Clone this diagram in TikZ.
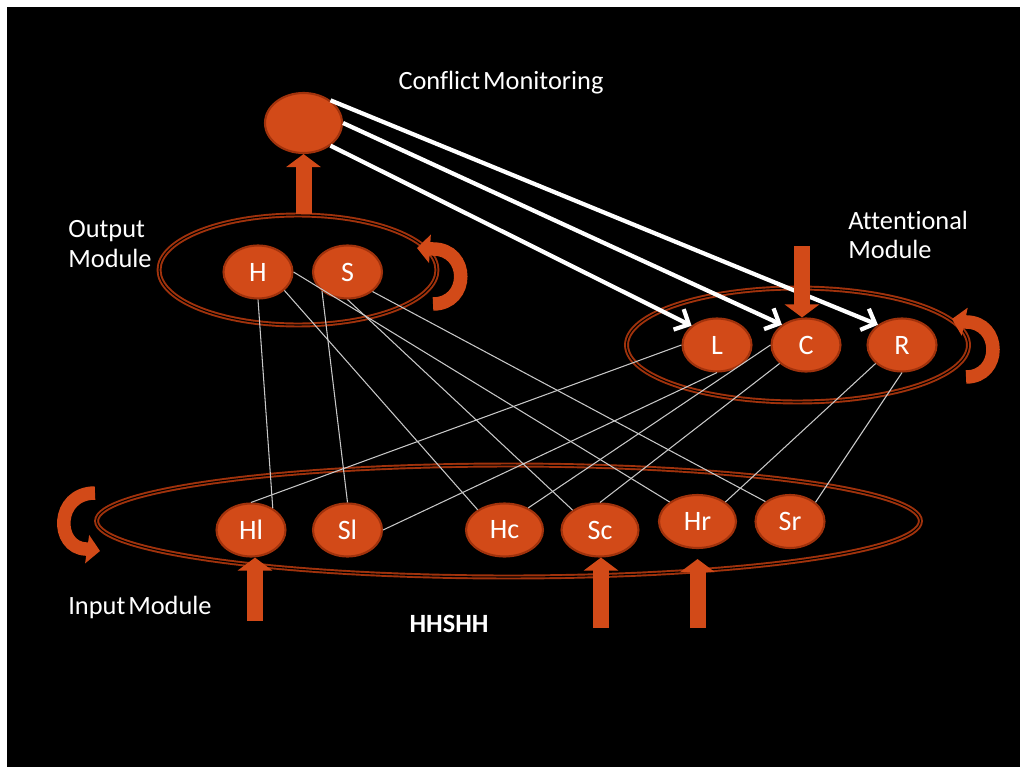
\documentclass[tikz,border=0pt]{standalone}
\usepackage{fontspec}
\setmainfont{Carlito}[Ligatures=CommonOff,WordSpace=0.5]
\usetikzlibrary{shapes.geometric,arrows.meta}
\definecolor{unitfill}{RGB}{210,74,24}
\definecolor{unitedge}{RGB}{160,50,12}
\definecolor{wiregrey}{RGB}{200,200,200}

\begin{document}
\begin{tikzpicture}[x=0.02cm,y=-0.02cm,
	unit/.style={ellipse,fill=unitfill,draw=unitedge,line width=1.2pt,text=white,inner sep=0pt,minimum width=1.38cm,minimum height=1.06cm,font=\fontsize{16}{18}\selectfont},
	module/.style={ellipse,draw=unitedge,line width=1.1pt,double=black,double distance=0.6pt,inner sep=0pt},
	modtext/.style={text=white,inner sep=0pt,align=left,font=\fontsize{15}{17}\selectfont},
	wire/.style={draw=wiregrey,line width=0.6pt},
	feedback/.style={draw=white,line width=2.4pt,-{Straight Barb[length=6.5pt,width=13pt]}},
	blockarrow/.style={draw=unitfill,line width=0.32cm,-{Triangle[length=0.26cm,width=0.68cm]}},
	curlarrow/.style={draw=unitfill,line width=0.27cm,-{Triangle[length=0.26cm,width=0.56cm]}}]
	\useasboundingbox (0,0) rectangle (1020,767);
	\fill[black] (7,7) rectangle (1020,767);
	\node[module,minimum width=5.56cm,minimum height=2.2cm] (outmod) at (298,270) {};
	\node[module,minimum width=6.84cm,minimum height=2.28cm] (attmod) at (797.5,345) {};
	\node[module,minimum width=16.48cm,minimum height=2.24cm] (inmod) at (508.5,521) {};
	\node[unit,minimum width=1.54cm,minimum height=1.2cm] (conf) at (303.5,123) {};
	\node[unit] (H) at (258,272) {H};
	\node[unit] (S) at (347.5,272) {S};
	\node[unit] (L) at (717,345) {L};
	\node[unit] (C) at (806,345) {C};
	\node[unit] (R) at (902,345) {R};
	\node[unit] (Hl) at (251,530) {Hl};
	\node[unit] (Sl) at (347.5,530) {Sl};
	\node[unit,minimum width=1.54cm] (Hc) at (504.5,530) {Hc};
	\node[unit,minimum width=1.54cm] (Sc) at (600,530) {Sc};
	\node[unit,minimum width=1.54cm] (Hr) at (697.5,521.5) {Hr};
	\node[unit] (Sr) at (790,521.5) {Sr};
	\node[modtext] (cmtext) at (501,83) {Conflict Monitoring};
	\node[modtext,anchor=west] (outtext) at (68,244) {Output\\Module};
	\node[modtext,anchor=west] (atttext) at (848,235) {Attentional\\Module};
	\node[modtext,anchor=west] (intext) at (68,607) {Input Module};
	\node[modtext,font=\fontsize{15}{17}\selectfont\bfseries] (stim) at (449,624) {HHSHH};
	\draw[wire] (H.south) -- (Hl.45);
	\draw[wire] (H.325) -- (Hc.143);
	\draw[wire] (H.east) -- (Hr.145);
	\draw[wire] (S.217) -- (Sl.north);
	\draw[wire] (S.south) -- (Sc.144);
	\draw[wire] (S.322) -- (Sr.141);
	\draw[wire] (L.west) -- (Hl.north);
	\draw[wire] (L.south) -- (Sl.east);
	\draw[wire] (C.west) -- (Hc.43);
	\draw[wire] (C.215) -- (Sc.north);
	\draw[wire] (R.215) -- (Hr.35);
	\draw[wire] (R.south) -- (Sr.37);
	\draw[feedback] (conf.40) -- (R.140);
	\draw[feedback] (conf.east) -- (C.140);
	\draw[feedback] (conf.320) -- (L.143);
	\coordinate (inHl) at (255,621);
	\coordinate (inSc) at (601,628);
	\coordinate (inHr) at (697.5,628);
	\coordinate (inatt) at (802,246);
	\draw[blockarrow] (conf.south |- outmod.north) -- (conf.south);
	\draw[blockarrow] (inHl) -- (Hl.south -| inHl);
	\draw[blockarrow] (inSc) -- (Sc.south -| inSc);
	\draw[blockarrow,shorten >=0.2cm] (inHr) -- (Hr.south -| inHr);
	\draw[blockarrow] (inatt) -- (C.north -| inatt);
	\coordinate (outloop) at (433,304);
	\coordinate (attloop) at (966,377);
	\coordinate (inloop) at (95,493);
	\draw[curlarrow] (outloop) .. controls (470,304) and (470,249) .. (433,249) -- (417,248);
	\draw[curlarrow] (attloop) .. controls (1002,377) and (1002,322) .. (966,322) -- (952,319);
	\draw[curlarrow] (inloop) .. controls (55,493) and (55,548) .. (86,549) -- (100,551);
\end{tikzpicture}
\end{document}
